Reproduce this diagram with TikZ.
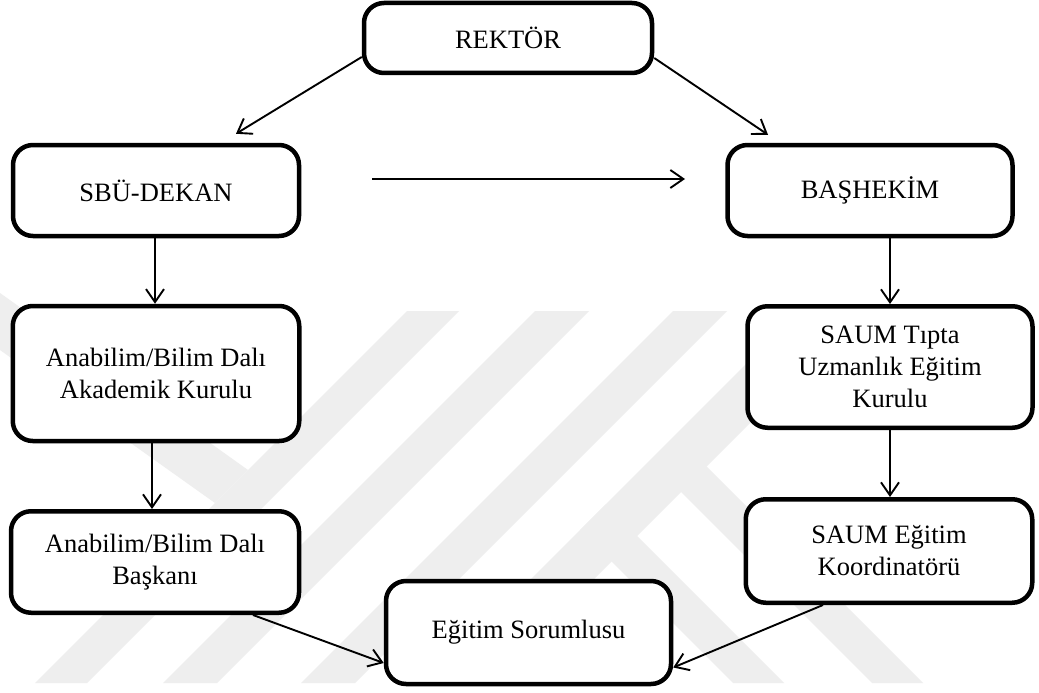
\documentclass[tikz,border=0pt]{standalone}
\usepackage{fontspec}
\setmainfont{Liberation Serif}
\usetikzlibrary{arrows.meta,calc}
\definecolor{wmgray}{RGB}{238,238,238}
\begin{document}
\begin{tikzpicture}[x=1pt,y=-1pt,
  box/.style={draw, line width=4.5pt, rounded corners=20pt, fill=white,
    align=center, inner sep=0pt, font=\fontsize{26.5}{32}\selectfont},
  arr/.style={line width=1.9pt, -{Straight Barb[length=13pt,width=18pt]}},
  wm/.style={fill=wmgray, draw=none}]
\fill[white] (0,0) rectangle (1039,693);
\useasboundingbox (0,0) rectangle (1039,693);

% faint background emblem made of slanted bands
\fill[wm] (407,311) -- (459,311) -- (87,683) -- (35,683) -- cycle;
\fill[wm] (535,311) -- (589,311) -- (217,683) -- (163,683) -- cycle;
\fill[wm] (673,311) -- (727,311) -- (355,683) -- (301,683) -- cycle;
\fill[wm] (0,293) -- (248,470) -- (215,503) -- (0,350) -- cycle;
\fill[wm] (799,311) -- (862,311) -- (490,683) -- (427,683) -- cycle;
\fill[wm] (703,463) -- (923,683) -- (872,683) -- (677,488) -- cycle;
\fill[wm] (605.5,504.5) -- (784,683) -- (733,683) -- (580,530) -- cycle;

% boxes
\node[box, minimum width=288pt, minimum height=70pt]    (rk) at (508,38)    {REKTÖR};
\node[box, minimum width=286pt, minimum height=91pt]    (sb) at (156,190.5) {SBÜ-DEKAN};
\node[box, minimum width=285pt, minimum height=91pt]    (bh) at (870,190.5) {BAŞHEKİM};
\node[box, minimum width=286.5pt, minimum height=135pt] (ak) at (156,373.5) {Anabilim/Bilim Dalı\\Akademik Kurulu};
\node[box, minimum width=285pt, minimum height=121.5pt] (tu) at (890,367)   {SAUM Tıpta\\Uzmanlık Eğitim\\Kurulu};
\node[box, minimum width=288pt, minimum height=101.5pt] (bk) at (155,562)   {Anabilim/Bilim Dalı\\Başkanı};
\node[box, minimum width=286.5pt, minimum height=103.5pt] (ko) at (889,551) {SAUM Eğitim\\Koordinatörü};
\node[box, minimum width=285pt, minimum height=103pt]   (es) at (528.5,632.5) {Eğitim Sorumlusu};

% free-standing horizontal arrow
\coordinate (hl) at (372,179);
\coordinate (hr) at (685,179);

% connectors
\draw[arr] ($(rk.west)+(0,19)$) -- ($(sb.north)+(80,-9)$);
\draw[arr] ($(rk.east)+(0,20)$) -- ($(bh.north)+(-102,-8)$);
\draw[arr] (hl) -- (hr);
\draw[arr] ($(sb.south)+(-1,0)$) -- ($(ak.north)+(-1,0)$);
\draw[arr] ($(ak.south)+(-4,0)$) -- ($(bk.north)+(-3,0)$);
\draw[arr] (bh.south -| tu.north) -- (tu.north);
\draw[arr] (tu.south) -- (tu.south |- ko.north);
\draw[arr] ($(bk.south)+(98,0)$) -- ($(es.west)+(0,30.5)$);
\draw[arr] ($(ko.south)+(-66,0)$) -- ($(es.east)+(0,35)$);
\end{tikzpicture}
\end{document}
